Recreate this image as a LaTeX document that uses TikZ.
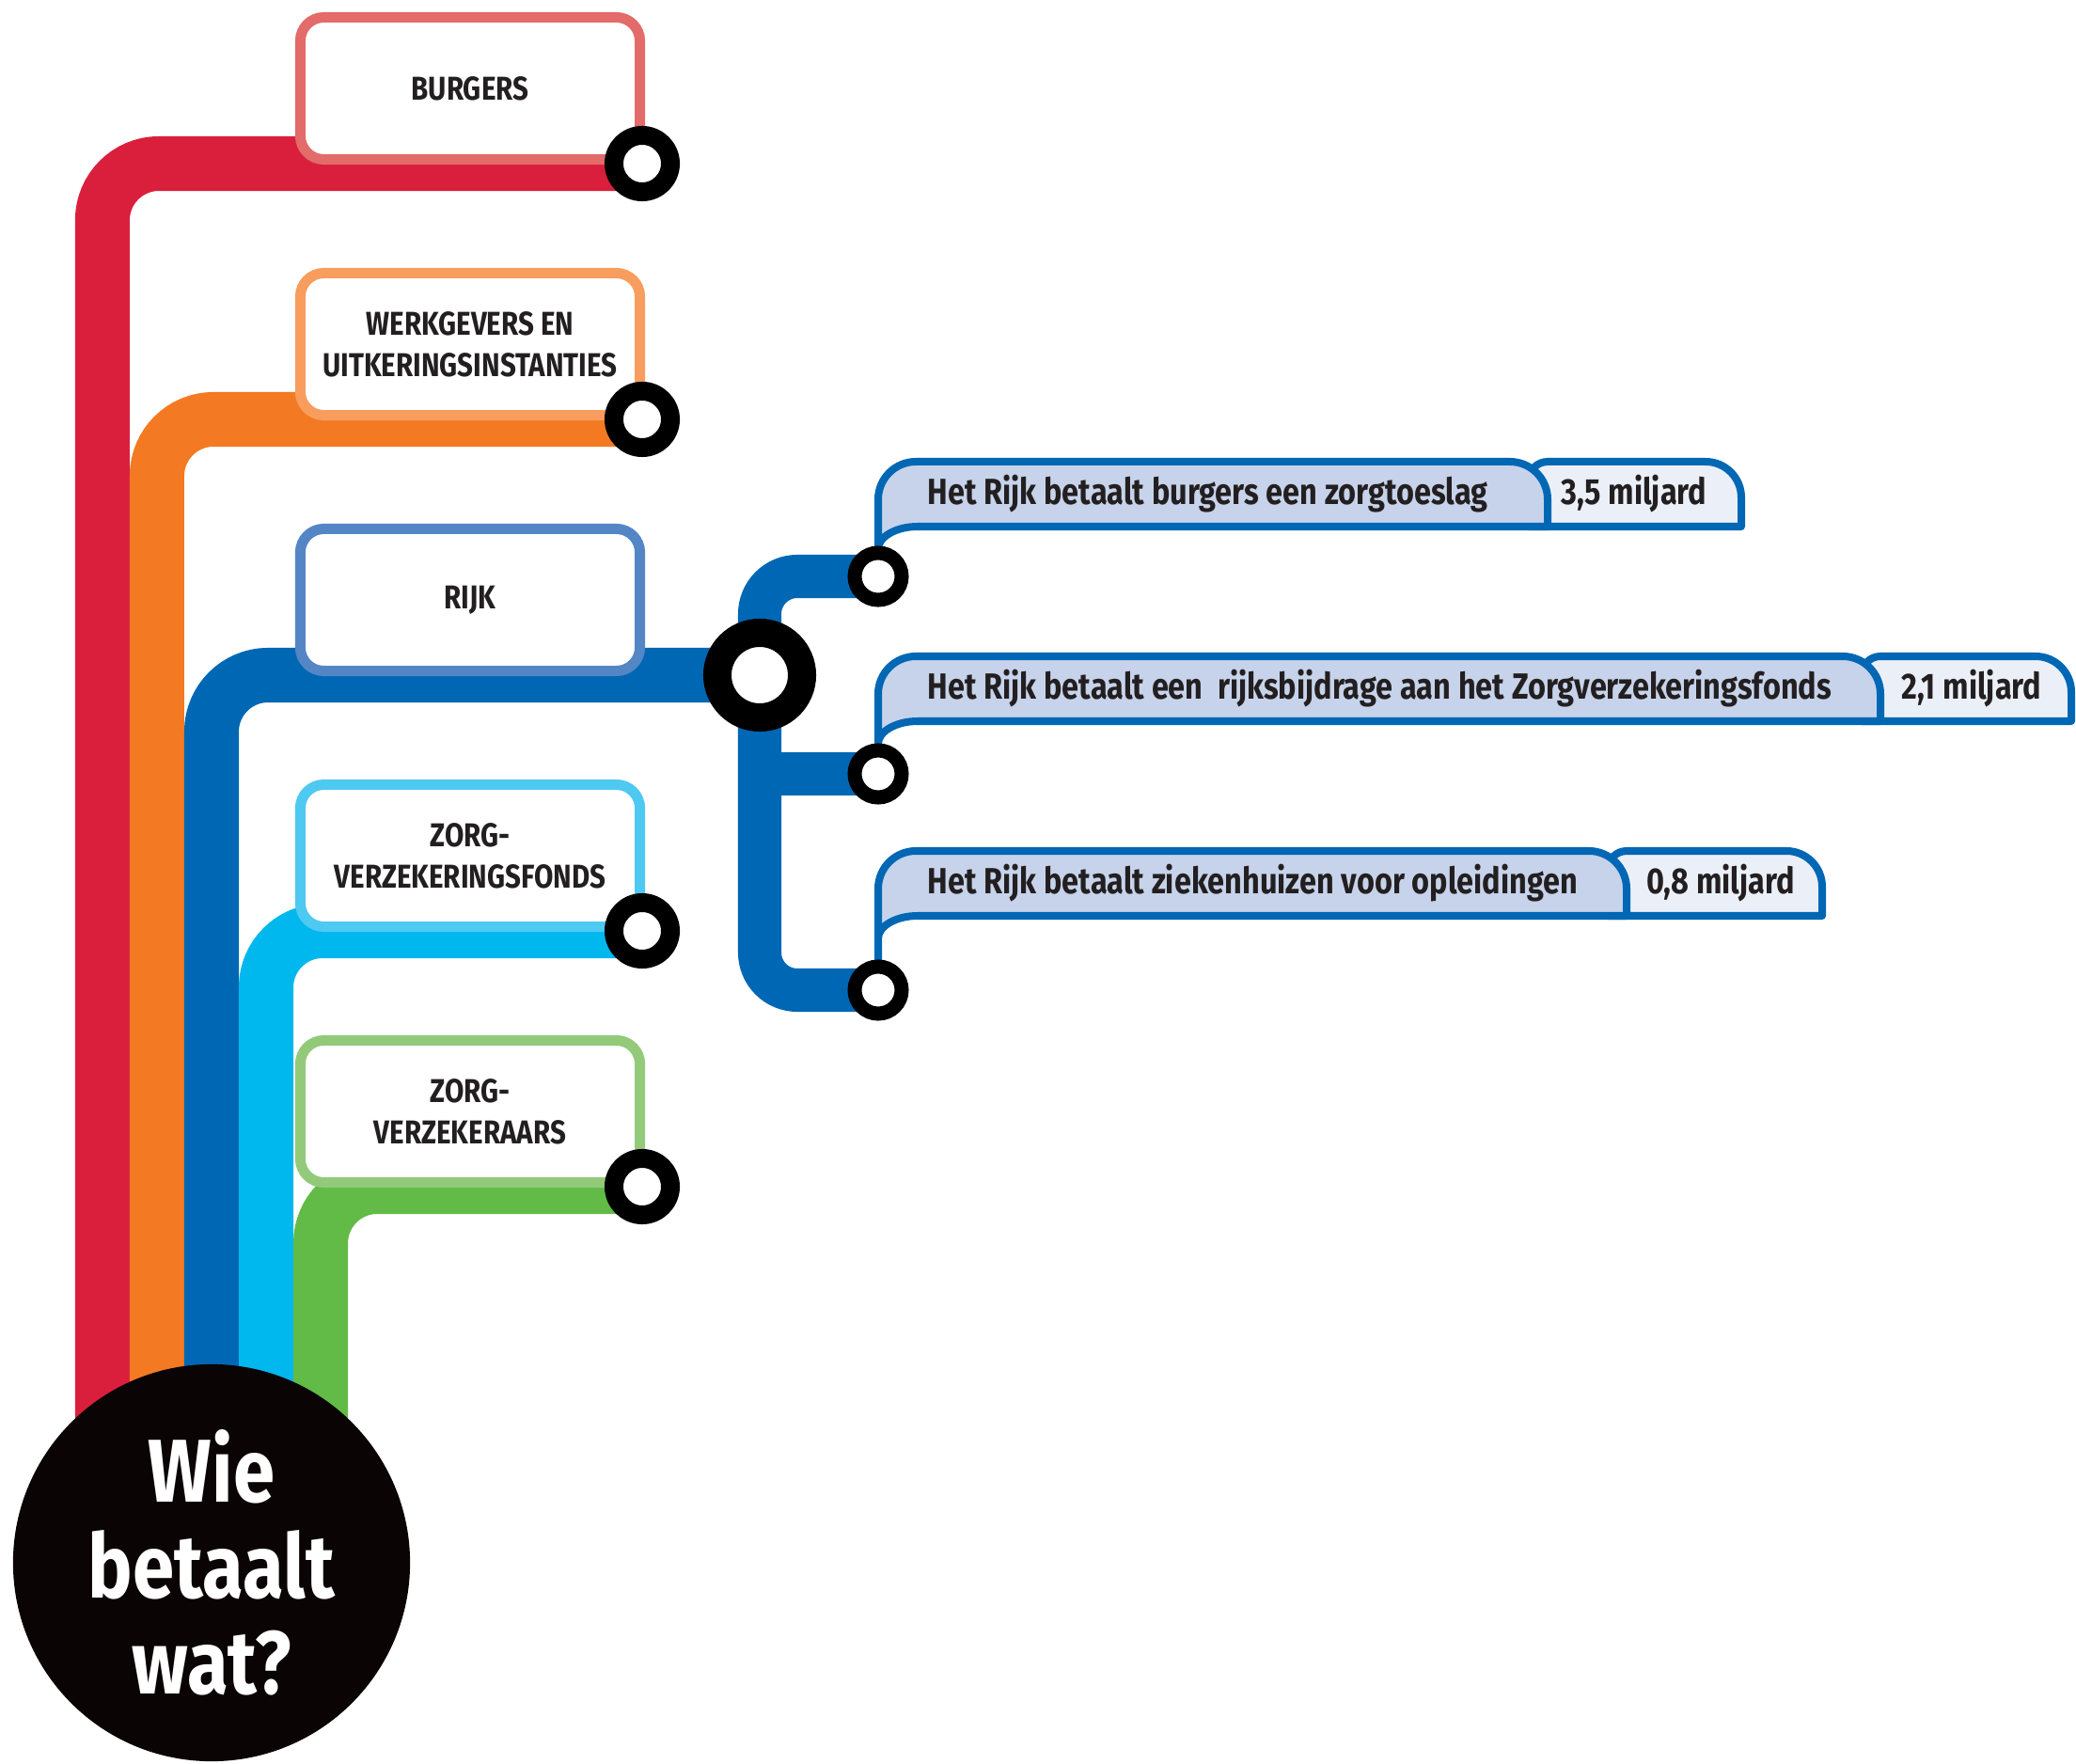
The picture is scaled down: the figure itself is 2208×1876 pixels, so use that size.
\documentclass[tikz,border=0pt]{standalone}
\usepackage{fontspec}
\setmainfont{Fira Sans}[FakeStretch=0.84]
\usetikzlibrary{positioning, calc, backgrounds}

\definecolor{burgred}{HTML}{DA1F3D}
\definecolor{burgbox}{HTML}{E36B69}
\definecolor{werkorange}{HTML}{F37A22}
\definecolor{werkbox}{HTML}{F89D5D}
\definecolor{rijkblue}{HTML}{0067B4}
\definecolor{rijkbox}{HTML}{5486C5}
\definecolor{fondscyan}{HTML}{00B8EE}
\definecolor{fondsbox}{HTML}{4DC9F2}
\definecolor{verzgreen}{HTML}{62BB46}
\definecolor{verzbox}{HTML}{93CA7A}
\definecolor{tabfill}{HTML}{C6D3EA}
\definecolor{amountfill}{HTML}{EBF0F8}
\definecolor{inkdark}{HTML}{231F20}
\definecolor{titleblack}{HTML}{0A0405}

\tikzset{
    every node/.style={text=inkdark, font=\bfseries},
    track/.style={line width=0.58cm, rounded corners=0.6cm}, % the five coloured lines
    spur/.style={line width=0.46cm, rounded corners=0.4cm, rijkblue},
    orgbox/.style={ % boxes of the payers
        draw, fill=white, line width=0.11cm, rounded corners=0.25cm,
        minimum width=3.61cm, minimum height=1.51cm, inner sep=0pt,
        align=center, font=\bfseries\fontsize{10}{12.5}\selectfont
    },
    halte/.style={circle, draw=black, fill=white, line width=0.2cm, minimum size=0.6cm, inner sep=0pt},
    bighalte/.style={halte, line width=0.3cm, minimum size=0.9cm},
    subhalte/.style={halte, line width=0.15cm, minimum size=0.5cm},
    paytext/.style={anchor=west, inner xsep=0pt, font=\bfseries\fontsize{11}{13}\selectfont},
    paysum/.style={font=\bfseries\fontsize{11}{13}\selectfont},
    tabline/.style={draw=rijkblue, line width=0.08cm, line join=round},
}

% tab behind a payment: left, top, bottom, right of text part, right of amount part, stop below
\newcommand{\paytab}[6]{%
    \path[tabline, fill=amountfill]
        (#4-20,#3) -- (#4-20,#2+20) .. controls (#4-20,#2+9) and (#4-11,#2) .. (#4,#2)
        -- (#5-38,#2) .. controls (#5-17,#2) and (#5,#2+17) .. (#5,#2+38) -- (#5,#3) -- cycle;
    \path[tabline, fill=tabfill]
        (#6.north) -- (#1,#2+40) .. controls (#1,#2+18) and (#1+18,#2) .. (#1+40,#2)
        -- (#4-40,#2) .. controls (#4-18,#2) and (#4,#2+18) .. (#4,#2+40) -- (#4,#3)
        -- (#1+42,#3) .. controls (#1+19,#3) and (#1,#3+11) .. (#1,#3+24) -- cycle;
}

\begin{document}
\begin{tikzpicture}[x=0.01cm, y=-0.01cm]
    \useasboundingbox (0,0) rectangle (2208,1876);

    \node[orgbox, draw=burgbox]  (burgers)      at (500,94)   {BURGERS};
    \node[orgbox, draw=werkbox]  (werkgevers)   at (500,366)  {WERKGEVERS EN\\UITKERINGSINSTANTIES};
    \node[orgbox, draw=rijkbox]  (rijk)         at (500,638)  {RIJK};
    \node[orgbox, draw=fondsbox] (fonds)        at (500,910)  {ZORG-\\VERZEKERINGSFONDS};
    \node[orgbox, draw=verzbox]  (verzekeraars) at (500,1182) {ZORG-\\VERZEKERAARS};

    \node[halte]    (hburgers)    at (683,174)  {};
    \node[halte]    (hwerkgevers) at (683,446)  {};
    \node[halte]    (hfonds)      at (683,990)  {};
    \node[halte]    (hverz)       at (683,1262) {};
    \node[bighalte] (hrijk)       at (808,718)  {};
    \node[subhalte] (htoeslag)    at (934,613)  {};
    \node[subhalte] (hbijdrage)   at (934,823)  {};
    \node[subhalte] (hopleiding)  at (934,1053) {};

    \node[circle, fill=titleblack, minimum size=4.22cm, inner sep=0pt, text=white, align=center,
          font=\bfseries\fontsize{27}{29}\selectfont] (wbw) at (225,1662) {Wie\\betaalt\\wat?};

    \node[paytext] (ttoeslag)   at (986,525)  {Het Rijk betaalt burgers een zorgtoeslag};
    \node[paysum]  (atoeslag)   at (1738,525) {3,5 miljard};
    \node[paytext] (tbijdrage)  at (986,732)  {Het Rijk betaalt een~ rijksbijdrage aan het Zorgverzekeringsfonds};
    \node[paysum]  (abijdrage)  at (2097,732) {2,1 miljard};
    \node[paytext] (topleiding) at (986,939)  {Het Rijk betaalt ziekenhuizen voor opleidingen};
    \node[paysum]  (aopleiding) at (1830,939) {0,8 miljard};

    \begin{scope}[on background layer]
        \draw[track, burgred]    ([xshift=-1.16cm]wbw.center) |- (hburgers.center);
        \draw[track, werkorange] ([xshift=-0.58cm]wbw.center) |- (hwerkgevers.center);
        \draw[track, rijkblue]   (wbw.center) |- (hrijk.center);
        \draw[track, fondscyan]  ([xshift=0.58cm]wbw.center) |- (hfonds.center);
        \draw[track, verzgreen]  ([xshift=1.16cm]wbw.center) |- (hverz.center);

        \draw[spur] (hrijk.center) |- (htoeslag.center);
        \draw[spur] (hrijk.center |- hbijdrage.center) -- (hbijdrage.center);
        \draw[spur] (hrijk.center) |- (hopleiding.center);

        \paytab{934}{491}{560}{1646}{1852}{htoeslag}
        \paytab{934}{698}{767}{2000}{2203}{hbijdrage}
        \paytab{934}{905}{974}{1730}{1938}{hopleiding}
    \end{scope}
\end{tikzpicture}
\end{document}
